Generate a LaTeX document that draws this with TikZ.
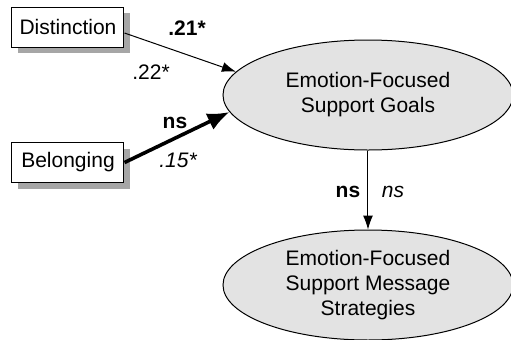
\documentclass[tikz,border=0pt]{standalone}
\usepackage{fontspec}
\setmainfont{Liberation Sans}
\usetikzlibrary{shapes.geometric,arrows.meta,calc}
\begin{document}
\begin{tikzpicture}[x=0.5pt,y=-0.5pt,
  every node/.style={font=\fontsize{10.5}{12.5}\selectfont},
  varbox/.style={draw=black,line width=0.5pt,fill=white,minimum width=56pt,minimum height=20pt,inner sep=0pt},
  shadowbox/.style={fill=gray!70,minimum width=56pt,minimum height=20pt,inner sep=0pt},
  latent/.style={ellipse,draw=black,line width=0.5pt,fill=gray!22,minimum width=145pt,minimum height=55pt,inner sep=0pt,align=center},
  thinarrow/.style={-{Latex[length=7pt,width=5pt]},line width=0.5pt},
  thickarrow/.style={-{Latex[length=11pt,width=9pt]},line width=1.8pt},
  lab/.style={inner sep=0pt}
]
\useasboundingbox (0,0) rectangle (511,339);
% shadows
\node[shadowbox] at (74,33) {};
\node[shadowbox] at (74,169) {};
% boxes
\node[varbox] (dist) at (68,27) {Distinction};
\node[varbox] (bel) at (68,162.5) {Belonging};
% ellipses
\node[latent] (goals) at (368,95) {Emotion-Focused\\Support Goals};
\node[latent] (strat) at (368,285) {Emotion-Focused\\Support Message\\Strategies};
% arrows
\draw[thinarrow] ($(dist.east)+(0,6)$) -- (goals.170.7);
\draw[thickarrow] (bel.east) -- (goals.187.2);
\draw[thinarrow] (goals.south) -- (strat.north);
% labels
\node[lab] (l1) at (187,28) {\bfseries .21*};
\node[lab] (l2) at (151,72) {.22*};
\node[lab] (l3) at (175,123) {\bfseries ns};
\node[lab] (l4) at (178,160) {\itshape .15*};
\node[lab] (l5) at (348,192) {\bfseries ns};
\node[lab] (l6) at (393,192) {\itshape ns};
\end{tikzpicture}
\end{document}
